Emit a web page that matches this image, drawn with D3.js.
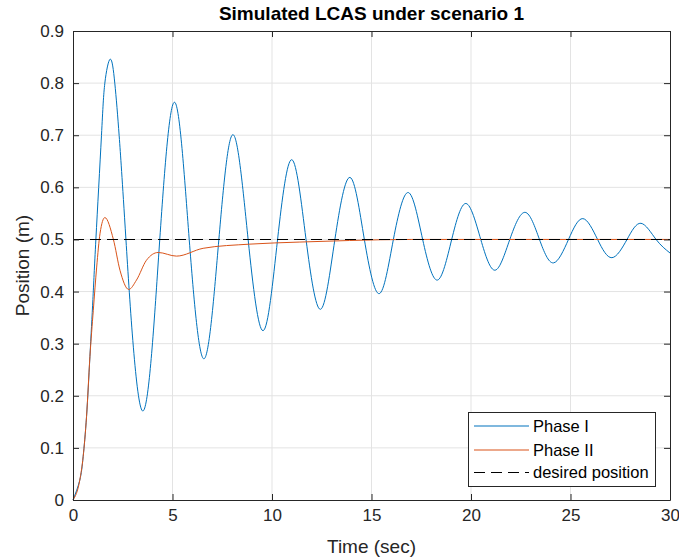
<!DOCTYPE html>
<html>
<head>
<meta charset="utf-8">
<script src="https://cdn.jsdelivr.net/npm/d3@7"></script>
<style>
  body { margin: 0; background: #fff; }
  svg { font-family: "Liberation Sans", Arial, Helvetica, sans-serif; }
</style>
</head>
<body>
<svg id="chart" width="679" height="559"></svg>
<script>
// values
const phase1Time = [0, 0.34, 0.51, 0.68, 0.85, 1.0, 1.15, 1.43, 1.6, 1.87, 2.1, 2.32, 2.66, 3.49, 4.36,
  5.12, 5.84, 6.59, 7.33, 8.05, 8.80, 9.56, 10.28, 11.0, 11.71, 12.44, 13.16, 13.92, 14.64, 15.39,
  16.1, 16.85, 17.57, 18.31, 19.03, 19.75, 20.49, 21.21, 21.95, 22.72, 23.44, 24.14, 24.9, 25.62,
  26.36, 27.08, 27.84, 28.54, 29.3, 30];
const phase1Pos = [0, 0.038, 0.083, 0.16, 0.275, 0.385, 0.5, 0.699, 0.8, 0.846, 0.8, 0.699, 0.5, 0.171, 0.5,
  0.763, 0.5, 0.271, 0.5, 0.701, 0.5, 0.325, 0.5, 0.653, 0.5, 0.366, 0.5, 0.619, 0.5, 0.396,
  0.5, 0.59, 0.5, 0.422, 0.5, 0.569, 0.5, 0.441, 0.5, 0.552, 0.5, 0.455, 0.5, 0.540,
  0.5, 0.465, 0.5, 0.531, 0.5, 0.474];

const phase2Time = [0, 0.34, 0.51, 0.68, 0.85, 1.02, 1.19, 1.36, 1.6, 2.03, 2.36, 2.8, 3.19, 3.69,
  4.28, 5.2, 6.54, 8.89, 11.4, 13.9, 17, 20, 30];
const phase2Pos = [0, 0.038, 0.083, 0.16, 0.275, 0.364, 0.447, 0.512, 0.542, 0.5, 0.441, 0.404, 0.422, 0.46,
  0.475, 0.468, 0.483, 0.491, 0.495, 0.498, 0.5, 0.5, 0.5];

const desiredPos = 0.5;
const xTicks = [0, 5, 10, 15, 20, 25, 30];
const yTicks = [0, 0.1, 0.2, 0.3, 0.4, 0.5, 0.6, 0.7, 0.8, 0.9];
const seriesNames = ["Phase I", "Phase II", "desired position"];

const plotLeft = 73, plotRight = 670, plotTop = 31, plotBottom = 500;
const axisColor = "#262626";
const blue = "#0072BD", orange = "#D95319";
const dashes = "11,6";

const svg = d3.select("#chart");
const x = d3.scaleLinear().domain([0, 30]).range([plotLeft, plotRight]);
const y = d3.scaleLinear().domain([0, 0.9]).range([plotBottom, plotTop]);

// grid
const grid = svg.append("g").attr("stroke", "#e3e3e3").attr("stroke-width", 1);
grid.selectAll(".gx").data(xTicks.slice(1, -1)).enter().append("line")
  .attr("x1", d => x(d)).attr("x2", d => x(d)).attr("y1", plotTop).attr("y2", plotBottom);
grid.selectAll(".gy").data(yTicks.slice(1, -1)).enter().append("line")
  .attr("y1", d => y(d)).attr("y2", d => y(d)).attr("x1", plotLeft).attr("x2", plotRight);

// curves
const p1 = phase1Time.map((t, i) => [t, phase1Pos[i]]);
const p2 = phase2Time.map((t, i) => [t, phase2Pos[i]]);

svg.append("path").datum(p1)
  .attr("fill", "none").attr("stroke", blue).attr("stroke-width", 1)
  .attr("d", d3.line().x(d => x(d[0])).y(d => y(d[1])).curve(d3.curveNatural));
svg.append("path").datum(p2)
  .attr("fill", "none").attr("stroke", orange).attr("stroke-width", 1)
  .attr("d", d3.line().x(d => x(d[0])).y(d => y(d[1])).curve(d3.curveMonotoneX));
svg.append("line")
  .attr("x1", x(0)).attr("x2", x(30)).attr("y1", y(desiredPos)).attr("y2", y(desiredPos))
  .attr("stroke", "#000").attr("stroke-width", 1.1).attr("stroke-dasharray", dashes);

// axes, ticks pointing inward on all four sides
function styleAxis(g) {
  g.select(".domain").attr("stroke", axisColor);
  g.selectAll(".tick line").attr("stroke", axisColor);
  g.selectAll(".tick text").attr("fill", axisColor).attr("font-size", 17);
}
svg.append("g").attr("transform", `translate(0,${plotBottom})`)
  .call(d3.axisBottom(x).tickValues(xTicks).tickSizeInner(-6).tickSizeOuter(0).tickPadding(9))
  .call(styleAxis).attr("font-family", null);
svg.append("g").attr("transform", `translate(${plotLeft},0)`)
  .call(d3.axisLeft(y).tickValues(yTicks).tickFormat(d3.format("~g")).tickSizeInner(-6).tickSizeOuter(0).tickPadding(9))
  .call(styleAxis).attr("font-family", null);
svg.append("g").attr("transform", `translate(0,${plotTop})`)
  .call(d3.axisTop(x).tickValues(xTicks).tickFormat("").tickSizeInner(-6).tickSizeOuter(0))
  .call(styleAxis);
svg.append("g").attr("transform", `translate(${plotRight},0)`)
  .call(d3.axisRight(y).tickValues(yTicks).tickFormat("").tickSizeInner(-6).tickSizeOuter(0))
  .call(styleAxis);

// labels
svg.append("text").attr("x", (plotLeft + plotRight) / 2).attr("y", 20)
  .attr("text-anchor", "middle").attr("font-weight", "bold").attr("font-size", 19)
  .attr("fill", "#000").text("Simulated LCAS under scenario 1");
svg.append("text").attr("x", (plotLeft + plotRight) / 2).attr("y", 553)
  .attr("text-anchor", "middle").attr("font-size", 19).attr("fill", axisColor).text("Time (sec)");
svg.append("text").attr("transform", `translate(29,${(plotTop + plotBottom) / 2}) rotate(-90)`)
  .attr("text-anchor", "middle").attr("font-size", 19).attr("fill", axisColor).text("Position (m)");

// legend
const legend = svg.append("g");
legend.append("rect").attr("x", 468.5).attr("y", 412.5).attr("width", 187).attr("height", 74)
  .attr("fill", "#fff").attr("stroke", axisColor).attr("stroke-width", 1);
const legendStyles = [
  { color: blue, dash: null },
  { color: orange, dash: null },
  { color: "#000", dash: dashes }
];
const rowY = [426, 450, 472.5];
seriesNames.forEach((name, i) => {
  legend.append("line").attr("x1", 474).attr("x2", 529).attr("y1", rowY[i]).attr("y2", rowY[i])
    .attr("stroke", legendStyles[i].color).attr("stroke-width", 1.1)
    .attr("stroke-dasharray", legendStyles[i].dash);
  legend.append("text").attr("x", 533).attr("y", rowY[i]).attr("dy", "0.35em")
    .attr("font-size", 16.5).attr("fill", "#000").text(name);
});
</script>
</body>
</html>
